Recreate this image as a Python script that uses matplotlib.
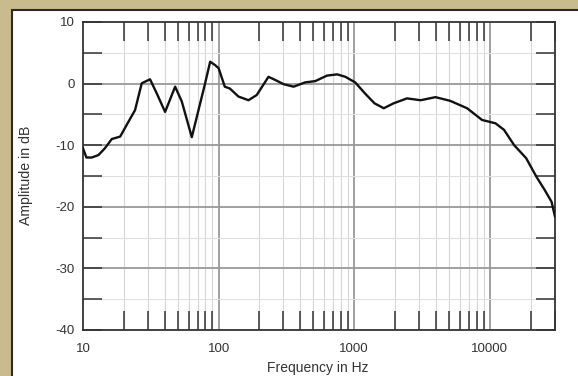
import matplotlib.pyplot as plt
from matplotlib.patches import Rectangle
from matplotlib.ticker import FixedLocator, NullFormatter

plt.rcParams['font.family'] = ['Liberation Sans', 'DejaVu Sans']

# Frequency response (Hz, dB)
freq = [10, 10.6, 11.6, 13.0, 14.5, 16.3, 18.8, 21.0, 24.2, 27.1, 31.2, 35.0,
        40.3, 47.8, 53.5, 63.4, 73.1, 79.5, 86.6, 94.2, 100, 111, 121, 140,
        166, 191, 233, 261, 302, 357, 435, 515, 630, 748, 860, 1015, 1200,
        1410, 1650, 1950, 2450, 3080, 3970, 5100, 6790, 8750, 11000, 12700,
        15100, 18500, 22000, 25400, 28500, 30200]
amp = [-10.5, -12.0, -12.0, -11.6, -10.5, -9.0, -8.6, -6.7, -4.3, 0.05, 0.7, -1.6,
       -4.6, -0.5, -2.9, -8.7, -3.2, 0.05, 3.55, 3.0, 2.5, -0.5, -0.8, -2.1,
       -2.7, -1.85, 1.1, 0.6, -0.1, -0.5, 0.2, 0.4, 1.3, 1.5, 1.1, 0.2, -1.6,
       -3.2, -4.0, -3.2, -2.4, -2.7, -2.2, -2.8, -4.0, -5.9, -6.45, -7.5,
       -10.0, -12.1, -15.1, -17.3, -19.2, -21.6]

x_major = [10, 100, 1000, 10000]
x_labels = ['10', '100', '1000', '10000']
y_major = [10, 0, -10, -20, -30, -40]
y_labels = ['10', '0', '-10', '-20', '-30', '-40']

W, H = 578, 376
fig = plt.figure(figsize=(W / 100, H / 100), dpi=100)
fig.patch.set_facecolor('#c8bb8e')

# white card with dark border
fig.patches.append(Rectangle((12 / W, -0.05), 1.1, (H - 10) / H + 0.05,
                             transform=fig.transFigure, facecolor='white',
                             edgecolor='#2a2a2a', linewidth=1.5, zorder=-1))

ax = fig.add_axes([83 / W, (H - 330) / H, (555 - 83) / W, (330 - 22) / H])
ax.set_zorder(2)
ax.set_facecolor('white')
ax.set_xscale('log')
ax.set_xlim(10, 30200)
ax.set_ylim(-40, 10)

minor_x = [m * d for d in [10, 100, 1000, 10000] for m in range(2, 10) if m * d < 30200]
minor_y = [5, -5, -15, -25, -35]

# grid
for f in minor_x:
    ax.axvline(f, color='#d6d6d6', lw=0.8, zorder=1)
for f in x_major[1:]:
    ax.axvline(f, color='#999999', lw=1.3, zorder=1)
for y in minor_y:
    ax.axhline(y, color='#e0e0e0', lw=0.8, zorder=1)
for y in y_major[1:-1]:
    ax.axhline(y, color='#999999', lw=1.3, zorder=1)

ax.plot(freq, amp, color='#111111', lw=1.7, zorder=3, solid_joinstyle='round')

ax.xaxis.set_major_locator(FixedLocator(x_major))
ax.set_xticklabels(x_labels)
ax.xaxis.set_minor_locator(FixedLocator(minor_x))
ax.xaxis.set_minor_formatter(NullFormatter())
ax.yaxis.set_major_locator(FixedLocator(y_major))
ax.set_yticklabels(y_labels)
ax.yaxis.set_minor_locator(FixedLocator(minor_y))

ax.tick_params(axis='both', which='both', direction='in', top=True, right=True,
               color='#333333', width=1.1, labelsize=9.5, labelcolor='#333333')
ax.tick_params(axis='x', which='minor', length=13.5)
ax.tick_params(axis='x', which='major', length=0, pad=9)
ax.tick_params(axis='y', which='minor', length=14)
ax.tick_params(axis='y', which='major', length=14, pad=6)

for s in ax.spines.values():
    s.set_color('#333333')
    s.set_linewidth(1.3)

fig.text(26 / W, 1 - 175 / H, 'Amplitude in dB', rotation=90, ha='center',
         va='center', fontsize=10.2, color='#333333')
fig.text(318 / W, 1 - 368 / H, 'Frequency in Hz', ha='center', va='center',
         fontsize=10, color='#333333')

fig.savefig('out.png', dpi=100, facecolor=fig.get_facecolor())
